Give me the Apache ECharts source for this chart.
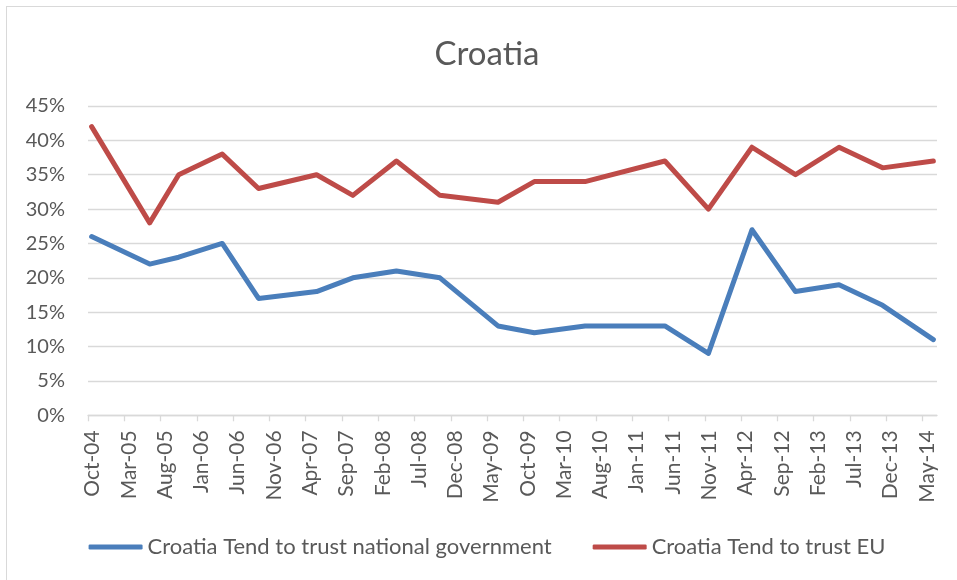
<!DOCTYPE html>
<html>
<head>
<meta charset="utf-8">
<script src="https://cdn.jsdelivr.net/npm/echarts@6/dist/echarts.min.js"></script>
<style>
  html, body { margin: 0; padding: 0; width: 957px; height: 580px; overflow: hidden; background: #ffffff; }
  #frame { position: absolute; left: 6px; top: 6px; width: 962px; height: 600px; border: 1.5px solid #d9d9d9; box-sizing: border-box; }
  #chart { position: absolute; left: 7px; top: 7px; width: 960px; height: 590px; }
</style>
</head>
<body>
<div id="frame"></div>
<div id="chart"></div>
<script>
// Survey dates (year-month) and values in percent
const surveyMonths = ['2004-10','2005-06','2005-10','2006-04','2006-09','2007-05','2007-10','2008-04','2008-10','2009-06','2009-11','2010-06','2011-05','2011-11','2012-05','2012-11','2013-05','2013-11','2014-06'];
const trustGovernment = [26, 22, 23, 25, 17, 18, 20, 21, 20, 13, 12, 13, 13, 9, 27, 18, 19, 16, 11];
const trustEU = [42, 28, 35, 38, 33, 35, 32, 37, 32, 31, 34, 34, 37, 30, 39, 35, 39, 36, 37];
const tickLabels = ['Oct-04','Mar-05','Aug-05','Jan-06','Jun-06','Nov-06','Apr-07','Sep-07','Feb-08','Jul-08','Dec-08','May-09','Oct-09','Mar-10','Aug-10','Jan-11','Jun-11','Nov-11','Apr-12','Sep-12','Feb-13','Jul-13','Dec-13','May-14'];
const seriesNames = ['Croatia Tend to trust national government', 'Croatia Tend to trust EU'];
const chartTitle = 'Croatia';

// Axis origin: October 2004; x measured in months, points at mid-month
const originYear = 2004, originMonth = 10;
function monthOffset(ym) {
  const [y, m] = ym.split('-').map(Number);
  return (y - originYear) * 12 + (m - originMonth) + 0.5;
}
const tickStep = 5;
const tickValues = tickLabels.map((_, i) => i * tickStep);
const govData = surveyMonths.map((d, i) => [monthOffset(d), trustGovernment[i]]);
const euData = surveyMonths.map((d, i) => [monthOffset(d), trustEU[i]]);

const textColor = '#595959';
const font = 'Lato';
const chart = echarts.init(document.getElementById('chart'));
chart.setOption({
  animation: false,
  backgroundColor: 'transparent',
  title: {
    text: chartTitle,
    left: 'center',
    top: 26,
    textStyle: { fontFamily: font, fontSize: 33, fontWeight: 'normal', color: textColor }
  },
  grid: { left: 81, top: 99, width: 849, height: 309.3, containLabel: false },
  xAxis: {
    type: 'value',
    min: 0,
    max: 117,
    interval: tickStep,
    axisLine: { show: true, lineStyle: { color: '#d9d9d9', width: 1.3 } },
    axisTick: { show: true, length: 6, lineStyle: { color: '#d9d9d9', width: 1.3 }, customValues: tickValues },
    splitLine: { show: false },
    axisLabel: {
      customValues: tickValues,
      rotate: 90,
      margin: 15,
      verticalAlign: 'top',
      lineHeight: 9,
      fontFamily: font,
      fontSize: 21,
      color: textColor,
      formatter: function (v) {
        const idx = Math.round(v / tickStep);
        return (Math.abs(v - idx * tickStep) < 1e-6 && tickLabels[idx]) ? tickLabels[idx] : '';
      }
    }
  },
  yAxis: {
    type: 'value',
    min: 0,
    max: 45,
    interval: 5,
    axisLine: { show: false },
    axisTick: { show: false },
    splitLine: { show: true, lineStyle: { color: '#d9d9d9', width: 1.3 } },
    axisLabel: { margin: 23, fontFamily: font, fontSize: 20, color: textColor, formatter: '{value}%' }
  },
  legend: {
    left: 'center',
    top: 524,
    itemGap: 41,
    itemWidth: 54,
    itemHeight: 5,
    icon: 'roundRect',
    textStyle: { fontFamily: font, fontSize: 22, color: textColor },
    data: seriesNames
  },
  series: [
    {
      name: seriesNames[0],
      type: 'line',
      data: govData,
      showSymbol: false,
      symbol: 'none',
      color: '#4a7ebb',
      lineStyle: { width: 5, color: '#4a7ebb', cap: 'round', join: 'round' }
    },
    {
      name: seriesNames[1],
      type: 'line',
      data: euData,
      showSymbol: false,
      symbol: 'none',
      color: '#be4b48',
      lineStyle: { width: 5, color: '#be4b48', cap: 'round', join: 'round' }
    }
  ]
});
</script>
</body>
</html>
